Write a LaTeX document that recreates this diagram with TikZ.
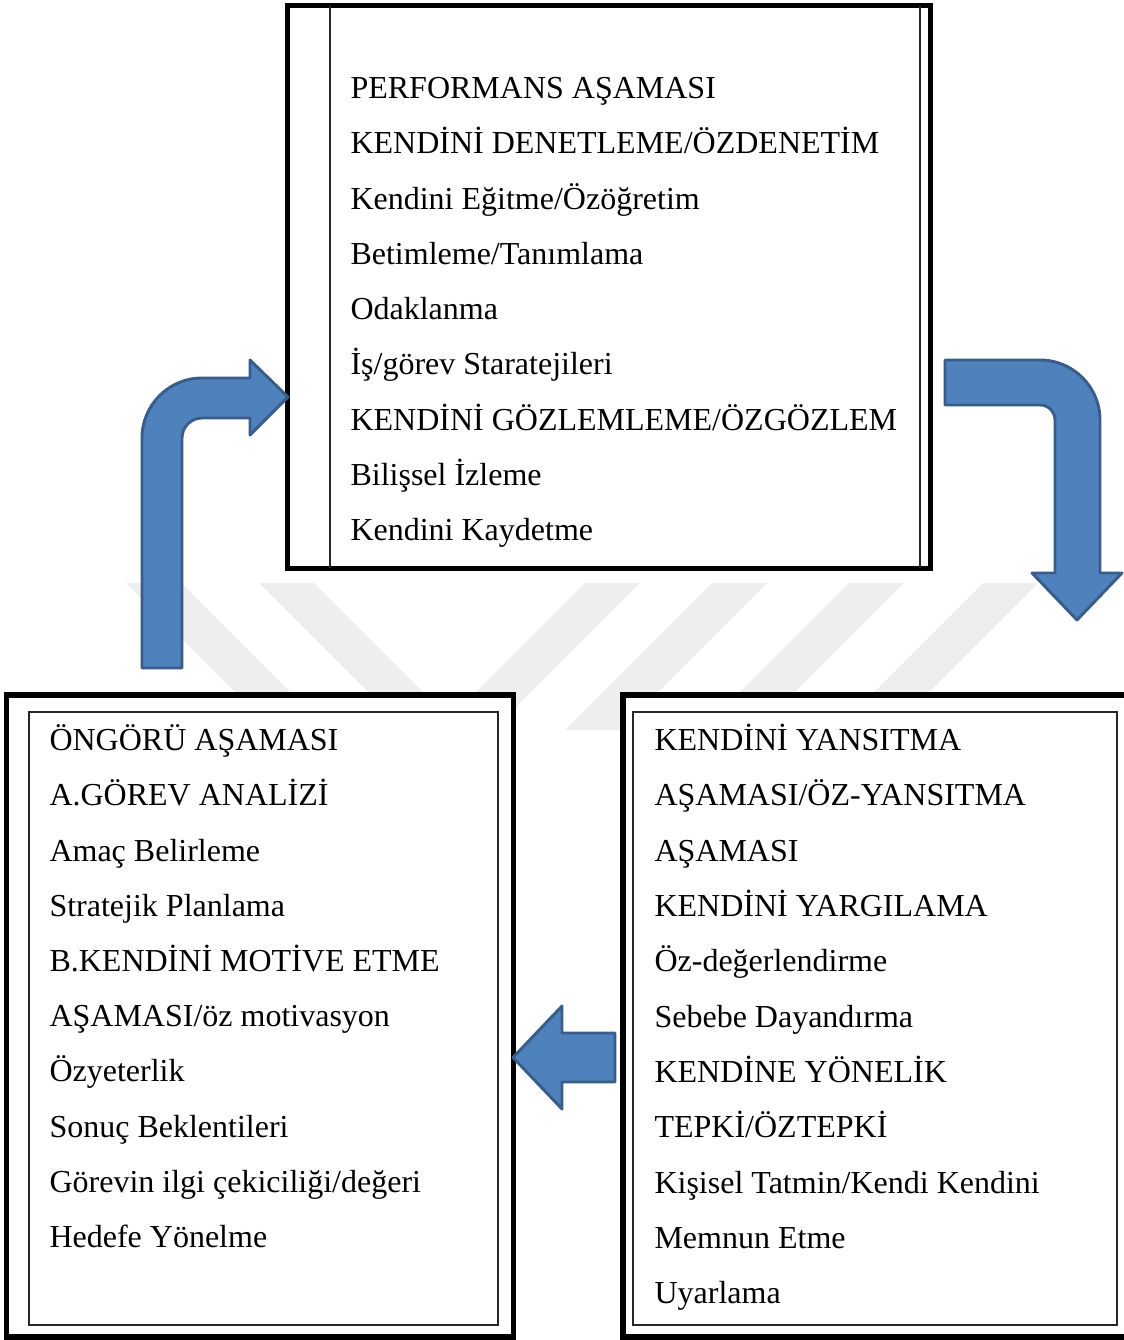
\documentclass[tikz,border=0pt]{standalone}
\usepackage{fontspec}
\setmainfont{Liberation Serif}
\usetikzlibrary{positioning}
\definecolor{arrowblue}{HTML}{4F81BD}
\definecolor{arrowedge}{HTML}{385D8A}
\definecolor{wmgray}{HTML}{EEEEEE}

\begin{document}
\begin{tikzpicture}[
    x=0.375pt, y=-0.375pt,
    font=\fontsize{12}{14}\selectfont,
    frame/.style={draw=black, line width=1.9pt, fill=white},
    innerframe/.style={draw=black!85, line width=0.6pt},
    blockarrow/.style={fill=arrowblue, draw=arrowedge, line width=1.1pt, line join=round},
    wmark/.style={fill=wmgray},
    textline/.style={anchor=base west, inner sep=0pt}
]
\useasboundingbox (0,0) rectangle (1123,1340);
% --- Filigran ---
\foreach \xa in {126,259}
    \fill[wmark] (\xa,583) -- ++(55,0) -- ++(147,147) -- ++(-55,0) -- cycle;
\foreach \xa in {585,712,849,983}
    \fill[wmark] (\xa,583) -- ++(55,0) -- ++(-147,147) -- ++(-55,0) -- cycle;
% --- Kutular ---
\draw[frame] (287.5,5.5) rectangle (930.5,568.5);
\draw[innerframe] (330,6) -- (330,568);
\draw[innerframe] (920,6) -- (920,568);
\draw[frame] (6.5,695) rectangle (513.5,1337);
\draw[innerframe] (29,712) rectangle (498,1325);
\draw[frame] (623,695) rectangle (1140,1337);
\draw[innerframe] (633,712) rectangle (1117,1325);
% --- Performans asamasi ---
\foreach \t [count=\i] in {PERFORMANS AŞAMASI, KENDİNİ DENETLEME/ÖZDENETİM,
        Kendini Eğitme/Özöğretim, Betimleme/Tanımlama, Odaklanma,
        İş/görev Staratejileri, KENDİNİ GÖZLEMLEME/ÖZGÖZLEM,
        Bilişsel İzleme, Kendini Kaydetme}
    \node[textline] (perf\i) at (350,{98.6+55.25*(\i-1)}) {\t};
% --- Ongoru asamasi ---
\foreach \t [count=\i] in {ÖNGÖRÜ AŞAMASI, A.GÖREV ANALİZİ, Amaç Belirleme,
        Stratejik Planlama, B.KENDİNİ MOTİVE ETME, AŞAMASI/öz motivasyon,
        Özyeterlik, Sonuç Beklentileri, Görevin ilgi çekiciliği/değeri,
        Hedefe Yönelme}
    \node[textline] (ongoru\i) at (49,{750.6+55.2*(\i-1)}) {\t};
% --- Oz-yansitma asamasi ---
\foreach \t [count=\i] in {KENDİNİ YANSITMA, AŞAMASI/ÖZ-YANSITMA, AŞAMASI,
        KENDİNİ YARGILAMA, Öz-değerlendirme, Sebebe Dayandırma,
        KENDİNE YÖNELİK, TEPKİ/ÖZTEPKİ, Kişisel Tatmin/Kendi Kendini,
        Memnun Etme, Uyarlama}
    \node[textline] (yansit\i) at (654,{750.6+55.3*(\i-1)}) {\t};
% --- Oklar ---
\draw[blockarrow] (142,668) -- (142,438)
    .. controls (142,404.9) and (168.9,378) .. (202,378)
    -- (250,378) -- (250,360) -- (288,397) -- (250,435) -- (250,418) -- (202,418)
    .. controls (190.95,418) and (182,426.95) .. (182,438)
    -- (182,668) -- cycle;
\draw[blockarrow] (945,360) -- (1040,360)
    .. controls (1073.1,360) and (1100,386.9) .. (1100,420)
    -- (1100,573) -- (1122,573) -- (1077,620) -- (1032,573) -- (1055,573) -- (1055,420)
    .. controls (1055,411.7) and (1048.3,405) .. (1040,405)
    -- (945,405) -- cycle;
\draw[blockarrow] (615,1033) -- (562,1033) -- (562,1006) -- (513,1057.5)
    -- (562,1109) -- (562,1082) -- (615,1082) -- cycle;
\end{tikzpicture}
\end{document}
